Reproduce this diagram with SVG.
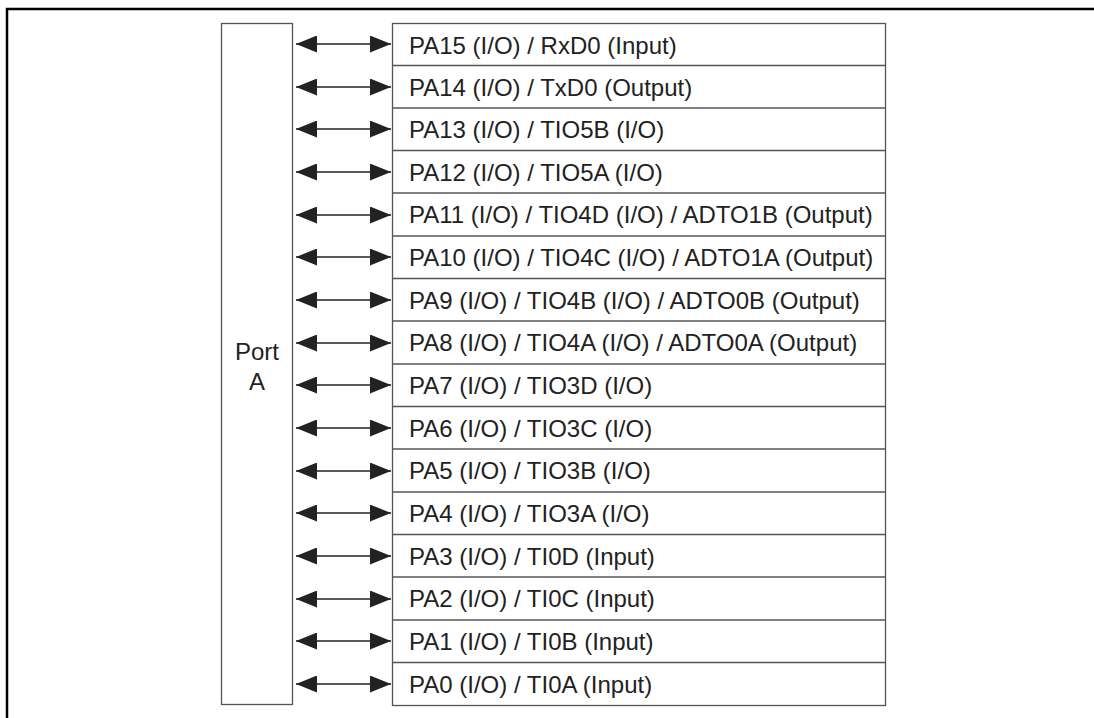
<svg xmlns="http://www.w3.org/2000/svg" width="1094" height="718" viewBox="0 0 1094 718">
<defs>
<style>
.frame{fill:none;stroke:#000;stroke-width:2.5}
.box{fill:#fff;stroke:#555;stroke-width:1.3}
.t{font-family:"Liberation Sans",Arial,sans-serif;font-size:24px;fill:#222}
.conn{stroke:#222;stroke-width:1.3}
.ah{fill:#222}
</style>
<marker id="arrE" viewBox="0 0 21 17" refX="21" refY="8.5" markerWidth="21" markerHeight="17" markerUnits="userSpaceOnUse" orient="auto"><path d="M0,0 L21,8.5 L0,17 Z" class="ah"/></marker>
<marker id="arrS" viewBox="0 0 21 17" refX="0" refY="8.5" markerWidth="21" markerHeight="17" markerUnits="userSpaceOnUse" orient="auto"><path d="M21,0 L0,8.5 L21,17 Z" class="ah"/></marker>
</defs>
<rect width="1094" height="718" fill="#fff"/>
<path class="frame" d="M7,718 V9 H1094"/>
<g id="portA">
<rect class="box" x="221.5" y="23.5" width="71" height="681"/>
<text class="t" x="257" y="360" text-anchor="middle">Port</text>
<text class="t" x="257" y="390" text-anchor="middle">A</text>
</g>
<g id="pins">
<rect class="box" x="392.5" y="23.5" width="493" height="682"/>
<g id="r15"><text class="t" x="409" y="53.5">PA15 (I/O) / RxD0 (Input)</text></g>
<g id="r14"><line class="box" x1="392.5" y1="65.5" x2="885.5" y2="65.5"/><text class="t" x="409" y="95.5">PA14 (I/O) / TxD0 (Output)</text></g>
<g id="r13"><line class="box" x1="392.5" y1="108" x2="885.5" y2="108"/><text class="t" x="409" y="138">PA13 (I/O) / TIO5B (I/O)</text></g>
<g id="r12"><line class="box" x1="392.5" y1="150.5" x2="885.5" y2="150.5"/><text class="t" x="409" y="180.5">PA12 (I/O) / TIO5A (I/O)</text></g>
<g id="r11"><line class="box" x1="392.5" y1="193" x2="885.5" y2="193"/><text class="t" x="409" y="223">PA11 (I/O) / TIO4D (I/O) / ADTO1B (Output)</text></g>
<g id="r10"><line class="box" x1="392.5" y1="236" x2="885.5" y2="236"/><text class="t" x="409" y="266">PA10 (I/O) / TIO4C (I/O) / ADTO1A (Output)</text></g>
<g id="r9"><line class="box" x1="392.5" y1="278.5" x2="885.5" y2="278.5"/><text class="t" x="409" y="308.5">PA9 (I/O) / TIO4B (I/O) / ADTO0B (Output)</text></g>
<g id="r8"><line class="box" x1="392.5" y1="321" x2="885.5" y2="321"/><text class="t" x="409" y="351">PA8 (I/O) / TIO4A (I/O) / ADTO0A (Output)</text></g>
<g id="r7"><line class="box" x1="392.5" y1="364" x2="885.5" y2="364"/><text class="t" x="409" y="394">PA7 (I/O) / TIO3D (I/O)</text></g>
<g id="r6"><line class="box" x1="392.5" y1="406.5" x2="885.5" y2="406.5"/><text class="t" x="409" y="436.5">PA6 (I/O) / TIO3C (I/O)</text></g>
<g id="r5"><line class="box" x1="392.5" y1="449" x2="885.5" y2="449"/><text class="t" x="409" y="479">PA5 (I/O) / TIO3B (I/O)</text></g>
<g id="r4"><line class="box" x1="392.5" y1="492" x2="885.5" y2="492"/><text class="t" x="409" y="522">PA4 (I/O) / TIO3A (I/O)</text></g>
<g id="r3"><line class="box" x1="392.5" y1="534.5" x2="885.5" y2="534.5"/><text class="t" x="409" y="564.5">PA3 (I/O) / TI0D (Input)</text></g>
<g id="r2"><line class="box" x1="392.5" y1="577" x2="885.5" y2="577"/><text class="t" x="409" y="607">PA2 (I/O) / TI0C (Input)</text></g>
<g id="r1"><line class="box" x1="392.5" y1="620" x2="885.5" y2="620"/><text class="t" x="409" y="650">PA1 (I/O) / TI0B (Input)</text></g>
<g id="r0"><line class="box" x1="392.5" y1="662.5" x2="885.5" y2="662.5"/><text class="t" x="409" y="692.5">PA0 (I/O) / TI0A (Input)</text></g>
</g>
<g id="connectors">
<line class="conn" x1="296" y1="44" x2="391" y2="44" marker-start="url(#arrS)" marker-end="url(#arrE)"/>
<line class="conn" x1="296" y1="87" x2="391" y2="87" marker-start="url(#arrS)" marker-end="url(#arrE)"/>
<line class="conn" x1="296" y1="129" x2="391" y2="129" marker-start="url(#arrS)" marker-end="url(#arrE)"/>
<line class="conn" x1="296" y1="172" x2="391" y2="172" marker-start="url(#arrS)" marker-end="url(#arrE)"/>
<line class="conn" x1="296" y1="215" x2="391" y2="215" marker-start="url(#arrS)" marker-end="url(#arrE)"/>
<line class="conn" x1="296" y1="257" x2="391" y2="257" marker-start="url(#arrS)" marker-end="url(#arrE)"/>
<line class="conn" x1="296" y1="300" x2="391" y2="300" marker-start="url(#arrS)" marker-end="url(#arrE)"/>
<line class="conn" x1="296" y1="343" x2="391" y2="343" marker-start="url(#arrS)" marker-end="url(#arrE)"/>
<line class="conn" x1="296" y1="385" x2="391" y2="385" marker-start="url(#arrS)" marker-end="url(#arrE)"/>
<line class="conn" x1="296" y1="428" x2="391" y2="428" marker-start="url(#arrS)" marker-end="url(#arrE)"/>
<line class="conn" x1="296" y1="471" x2="391" y2="471" marker-start="url(#arrS)" marker-end="url(#arrE)"/>
<line class="conn" x1="296" y1="513" x2="391" y2="513" marker-start="url(#arrS)" marker-end="url(#arrE)"/>
<line class="conn" x1="296" y1="556" x2="391" y2="556" marker-start="url(#arrS)" marker-end="url(#arrE)"/>
<line class="conn" x1="296" y1="599" x2="391" y2="599" marker-start="url(#arrS)" marker-end="url(#arrE)"/>
<line class="conn" x1="296" y1="641" x2="391" y2="641" marker-start="url(#arrS)" marker-end="url(#arrE)"/>
<line class="conn" x1="296" y1="684" x2="391" y2="684" marker-start="url(#arrS)" marker-end="url(#arrE)"/>
</g>
</svg>
